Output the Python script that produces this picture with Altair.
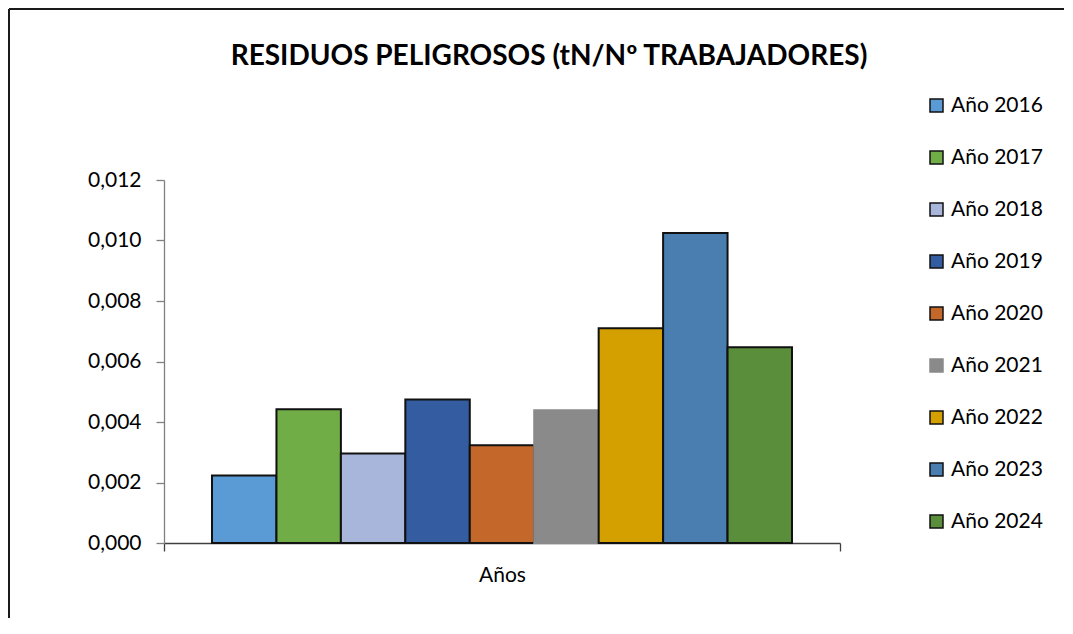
import altair as alt
import pandas as pd

title_text = "RESIDUOS PELIGROSOS (tN/Nº TRABAJADORES)"
category = "Años"
years = ["Año 2016", "Año 2017", "Año 2018", "Año 2019", "Año 2020",
         "Año 2021", "Año 2022", "Año 2023", "Año 2024"]
values = [0.00223, 0.00442, 0.00296, 0.00474, 0.00323,
          0.00439, 0.00710, 0.01025, 0.00647]
fill_colors = ["#5B9BD5", "#70AD47", "#A8B6DB", "#345CA1", "#C4672A",
               "#8A8A8A", "#D4A000", "#4A7EB0", "#5A8E3B"]
stroke_colors = ["#111111", "#111111", "#111111", "#111111", "#111111",
                 "#8A8A8A", "#111111", "#111111", "#111111"]
y_ticks = [0.0, 0.002, 0.004, 0.006, 0.008, 0.010, 0.012]

df = pd.DataFrame({"cat": [category] * len(years), "year": years, "value": values})

FONT = "Lato"

bars = alt.Chart(df).mark_bar(strokeWidth=2).encode(
    x=alt.X("cat:N",
            scale=alt.Scale(paddingInner=0, paddingOuter=0),
            axis=alt.Axis(title=None, tickBand="extent", labelAngle=0,
                          labelFont=FONT, labelFontSize=21, labelColor="#000000",
                          labelPadding=13, tickSize=8, tickColor="#404040",
                          domainColor="#404040", domainWidth=1.3, tickWidth=1.3)),
    xOffset=alt.XOffset("year:N", sort=years,
                        scale=alt.Scale(paddingInner=0, paddingOuter=0.745)),
    y=alt.Y("value:Q",
            scale=alt.Scale(domain=[0, 0.012], nice=False),
            axis=alt.Axis(title=None, values=y_ticks, grid=False,
                          labelExpr="replace(format(datum.value, '.3f'), '.', ',')",
                          labelFont=FONT, labelFontSize=21, labelColor="#000000",
                          labelPadding=15, tickSize=8, tickColor="#808080",
                          domainColor="#808080", domainWidth=1.3, tickWidth=1.3)),
    color=alt.Color("year:N", sort=years,
                    scale=alt.Scale(domain=years, range=fill_colors),
                    legend=alt.Legend(title=None, orient="none",
                                      legendX=762, legendY=-85)),
    stroke=alt.Stroke("year:N", sort=years,
                      scale=alt.Scale(domain=years, range=stroke_colors),
                      legend=alt.Legend(title=None, orient="none",
                                        legendX=762, legendY=-85)),
)

title = alt.Chart(alt.Data(values=[{"t": title_text}])).mark_text(
    font=FONT, fontSize=28, fontWeight="bold", color="#000000",
    align="center", baseline="alphabetic"
).encode(text="t:N", x=alt.value(385), y=alt.value(-115))

top_line = alt.Chart(alt.Data(values=[{}])).mark_rule(
    color="#1a1a1a", strokeWidth=2
).encode(x=alt.value(-155), x2=alt.value(900), y=alt.value(-171))

left_line = alt.Chart(alt.Data(values=[{}])).mark_rule(
    color="#1a1a1a", strokeWidth=2
).encode(x=alt.value(-155), y=alt.value(-171), y2=alt.value(438))

chart = alt.layer(top_line, left_line, bars, title).properties(
    width=676, height=363, padding=0
).configure_view(stroke=None).configure_legend(
    labelFont=FONT, labelFontSize=21, labelColor="#000000",
    symbolType="square", symbolSize=169, symbolStrokeWidth=1.5,
    rowPadding=30, labelOffset=4, padding=0
)

chart.save("out.html", embed_options={"renderer": "svg", "actions": False})
